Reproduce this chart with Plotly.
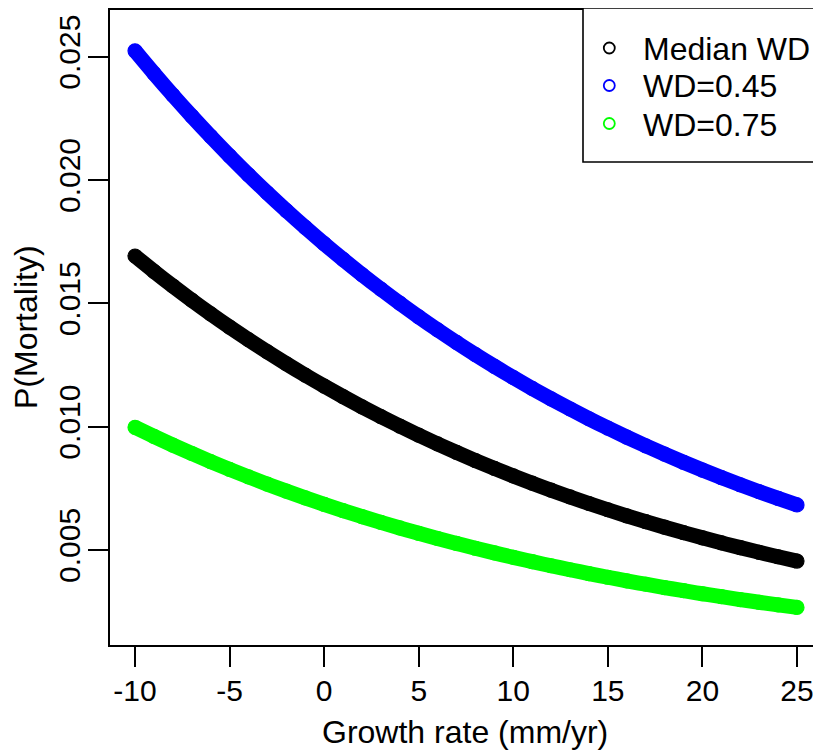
import plotly.graph_objects as go

# Growth rate (mm/yr)
growth = [-10, -9, -8, -7, -6, -5, -4, -3, -2, -1, 0, 1, 2, 3, 4, 5, 6, 7, 8, 9,
          10, 11, 12, 13, 14, 15, 16, 17, 18, 19, 20, 21, 22, 23, 24, 25]

p_median = [0.016918, 0.016299, 0.015702, 0.015127, 0.014573, 0.014038, 0.013524,
            0.013027, 0.012549, 0.012087, 0.011643, 0.011215, 0.010802, 0.010405,
            0.010022, 0.0096525, 0.0092970, 0.0089543, 0.0086242, 0.0083060,
            0.0079996, 0.0077044, 0.0074200, 0.0071460, 0.0068821, 0.0066278,
            0.0063829, 0.0061470, 0.0059197, 0.0057008, 0.0054900, 0.0052869,
            0.0050912, 0.0049028, 0.0047213, 0.0045465]

p_wd045 = [0.025240, 0.024325, 0.023441, 0.022589, 0.021768, 0.020975, 0.020210,
           0.019473, 0.018762, 0.018077, 0.017417, 0.016780, 0.016166, 0.015575,
           0.015004, 0.014454, 0.013923, 0.013413, 0.012920, 0.012446, 0.011989,
           0.011548, 0.011123, 0.010714, 0.010319, 0.0099392, 0.0095734, 0.0092206,
           0.0088807, 0.0085533, 0.0082378, 0.0079338, 0.0076411, 0.0073589,
           0.0070872, 0.0068254]

p_wd075 = [0.0099720, 0.0096047, 0.0092507, 0.0089098, 0.0085812, 0.0082647,
           0.0079598, 0.0076661, 0.0073831, 0.0071104, 0.0068478, 0.0065947,
           0.0063511, 0.0061163, 0.0058902, 0.0056723, 0.0054626, 0.0052605,
           0.0050658, 0.0048783, 0.0046977, 0.0045238, 0.0043563, 0.0041949,
           0.0040396, 0.0038899, 0.0037458, 0.0036070, 0.0034733, 0.0033446,
           0.0032206, 0.0031012, 0.0029862, 0.0028755, 0.0027688, 0.0026661]

series_names = ["Median WD", "WD=0.45", "WD=0.75"]
series_colors = ["#000000", "#0000FF", "#00FF00"]
series_values = [p_median, p_wd045, p_wd075]

x_ticks = [-10, -5, 0, 5, 10, 15, 20, 25]
x_ticktext = ["-10", "-5", "0", "5", "10", "15", "20", "25"]
y_ticks = [0.005, 0.010, 0.015, 0.020, 0.025]
y_ticktext = ["0.005", "0.010", "0.015", "0.020", "0.025"]

FONT = "Liberation Sans, Arial, Helvetica, sans-serif"
OFF = 8  # default page body margin
W, H = 813, 746
ML, MR, MT, MB = 102, 0, 2, 109
PW, PH = W - ML - MR, H - MT - MB


def px_x(page_x):
    return (page_x - OFF - ML) / PW


def px_y(page_y):
    return (H - MB - (page_y - OFF)) / PH


fig = go.Figure()
for name, col, vals in zip(series_names, series_colors, series_values):
    fig.add_trace(go.Scatter(
        x=growth, y=vals, name=name, mode="lines+markers",
        line=dict(color=col, width=15, shape="spline"),
        marker=dict(symbol="circle", size=14, color=col,
                    line=dict(color=col, width=1.2)),
        showlegend=False,
    ))

shapes = [dict(type="rect", xref="paper", yref="paper",
               x0=px_x(583), x1=px_x(840), y0=px_y(162), y1=px_y(8),
               line=dict(color="black", width=1.6), fillcolor="white", layer="above")]
annotations = []
row_y = [48, 85.5, 123.5]
for name, col, ry in zip(series_names, series_colors, row_y):
    shapes.append(dict(type="circle", xref="paper", yref="paper",
                       x0=px_x(603.8), x1=px_x(614.8), y0=px_y(ry + 5.5), y1=px_y(ry - 5.5),
                       line=dict(color=col, width=1.8), layer="above"))
    annotations.append(dict(text=name, xref="paper", yref="paper",
                            x=px_x(641), y=px_y(ry + 1), xanchor="left", yanchor="middle",
                            showarrow=False, font=dict(size=32, color="black", family=FONT)))

annotations.append(dict(text="Growth rate (mm/yr)", xref="paper", yref="paper",
                        x=px_x(465), y=px_y(732), xanchor="center", yanchor="middle",
                        showarrow=False, font=dict(size=32, color="black", family=FONT)))
annotations.append(dict(text="P(Mortality)", xref="paper", yref="paper",
                        x=px_x(26), y=px_y(327), xanchor="center", yanchor="middle",
                        textangle=-90, showarrow=False,
                        font=dict(size=32, color="black", family=FONT)))

fig.update_layout(
    width=W, height=H,
    margin=dict(l=ML, r=MR, t=MT, b=MB, pad=0),
    paper_bgcolor="white", plot_bgcolor="white",
    font=dict(family=FONT, size=30, color="black"),
    shapes=shapes, annotations=annotations,
    showlegend=False,
)
fig.update_xaxes(
    range=[-11.322, 26.269], tickvals=x_ticks, ticktext=x_ticktext,
    showgrid=False, zeroline=False, showline=True, linecolor="black", linewidth=2,
    mirror=True, ticks="outside", ticklen=20, tickwidth=2, tickcolor="black",
    ticklabelstandoff=-2,
    tickfont=dict(size=30, family=FONT, color="black"),
)
fig.update_yaxes(
    range=[0.001143, 0.026894], tickvals=y_ticks, ticktext=y_ticktext,
    showgrid=False, zeroline=False, showline=True, linecolor="black", linewidth=2,
    mirror=False, ticks="outside", ticklen=20, tickwidth=2, tickcolor="black",
    ticklabelstandoff=-4,
    tickangle=-90, tickfont=dict(size=30, family=FONT, color="black"),
)

fig.write_html("out.html")
